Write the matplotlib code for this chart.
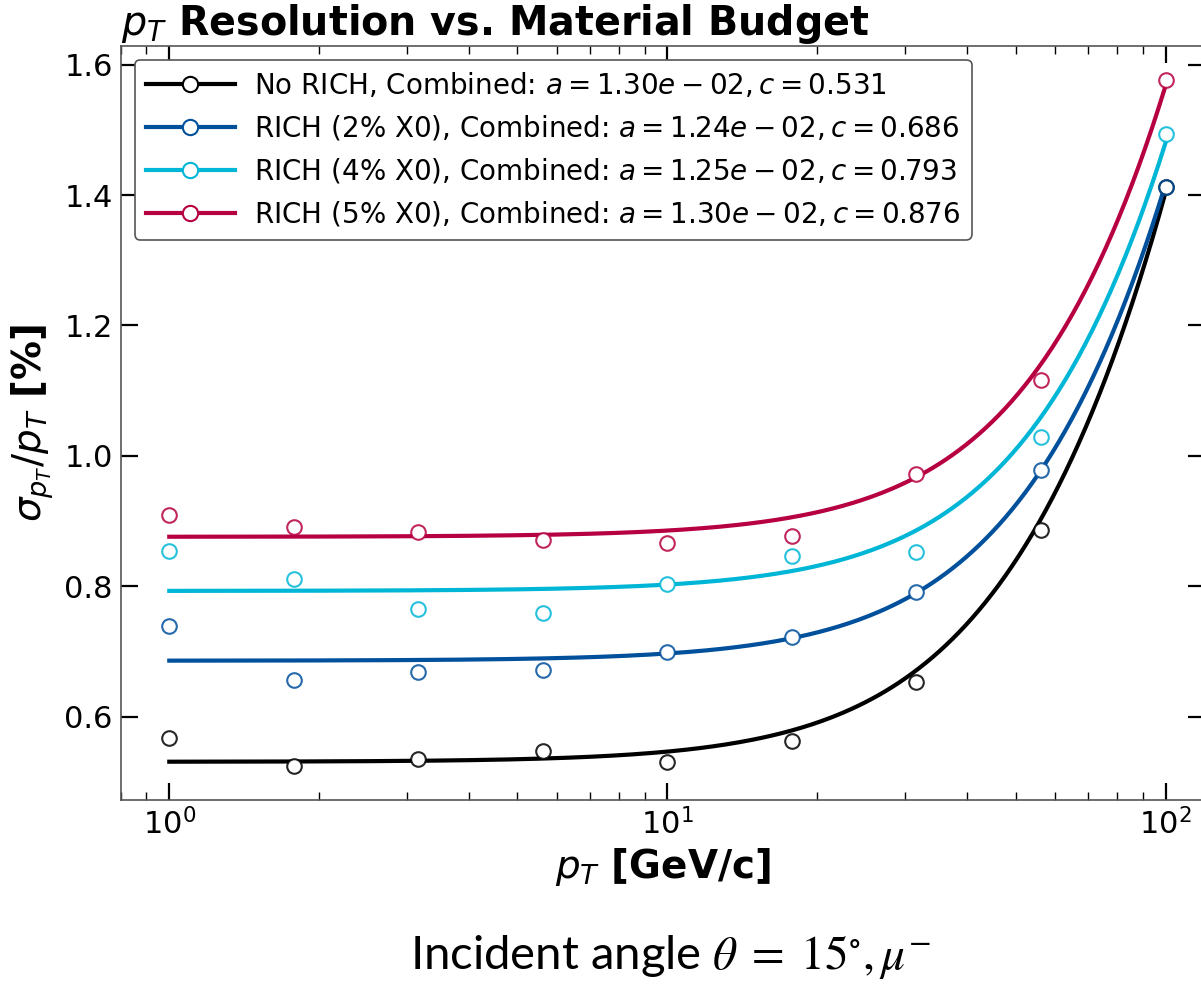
import numpy as np
import matplotlib
matplotlib.use("Agg")
import matplotlib.pyplot as plt
from matplotlib.lines import Line2D
from matplotlib.ticker import LogLocator, NullFormatter

OUTPUT_FILE = "out.png"

# measured points (pT in GeV/c, resolution in %)
PT = [1.0, 1.78, 3.16, 5.62, 10.0, 17.8, 31.6, 56.2, 100.0]

RES_NORICH = [0.568, 0.525, 0.536, 0.548, 0.530, 0.563, 0.653, 0.887, 1.412]
RES_RICH2  = [0.740, 0.657, 0.669, 0.672, 0.700, 0.722, 0.791, 0.978, 1.413]
RES_RICH4  = [0.854, 0.812, 0.765, 0.759, 0.803, 0.847, 0.853, 1.029, 1.493]
RES_RICH5  = [0.909, 0.891, 0.884, 0.871, 0.866, 0.877, 0.973, 1.117, 1.576]

# fit parameters from the legend: sigma/pT = sqrt((a*pT)^2 + c^2)
FIT_A = [1.30e-2, 1.24e-2, 1.25e-2, 1.30e-2]
FIT_C = [0.531, 0.686, 0.793, 0.876]

NAMES  = ["No RICH", "RICH (2% X0)", "RICH (4% X0)", "RICH (5% X0)"]
COLORS = ["#000000", "#00509c", "#00b6d6", "#b70042"]


def fit_curve(pt, a, c):
    return np.sqrt((a * pt) ** 2 + c ** 2)


def main():
    fig = plt.figure(figsize=(12.01, 9.85), dpi=100)
    ax = fig.add_axes([121 / 1201, 185 / 985, 1084 / 1201, 754 / 985])

    series = [RES_NORICH, RES_RICH2, RES_RICH4, RES_RICH5]
    pt_fine = np.logspace(0, 2, 300)
    handles = []
    for res, a, c, name, col in zip(series, FIT_A, FIT_C, NAMES, COLORS):
        ax.plot(pt_fine, fit_curve(pt_fine, a, c), color=col, lw=3.0, zorder=2)
        ax.plot(PT, res, "o", ms=10.5, mfc="white", mec="none", zorder=2.5)
        ax.plot(PT, res, "o", ms=10.5, mfc="none", mec=col, mew=1.5,
                alpha=0.85, zorder=3)
        lab = f"{name}, Combined: $a = {a:.2e}, c = {c:.3f}$"
        handles.append(Line2D([], [], color=col, lw=3.0, marker="o", ms=11,
                              mfc="white", mec=col, mew=1.5, label=lab))

    ax.set_xscale("log")
    ax.set_xlim(0.8, 120)
    ax.margins(y=0.05)

    ax.xaxis.set_minor_locator(LogLocator(base=10, subs=np.arange(2, 10)))
    ax.xaxis.set_minor_formatter(NullFormatter())
    ax.set_yticks([0.6, 0.8, 1.0, 1.2, 1.4, 1.6])

    ax.tick_params(which="both", direction="in", top=True, right=True,
                   labelsize=22)
    ax.tick_params(which="major", length=12, width=1.6)
    ax.tick_params(which="minor", length=6, width=1.0)
    ax.tick_params(axis="x", which="major", pad=6)
    ax.tick_params(axis="y", which="major", pad=6)
    for sp in ax.spines.values():
        sp.set_color("#555555")
        sp.set_linewidth(1.2)

    ax.set_xlabel(r"$p_T$ [GeV/c]", fontsize=28, fontweight="bold", labelpad=4)
    ax.set_ylabel(r"$\sigma_{p_T}/p_T$ [%]", fontsize=28, fontweight="bold",
                  labelpad=6)
    ax.set_title(r"$p_T$ Resolution vs. Material Budget", loc="left",
                 fontsize=28.5, fontweight="bold", pad=4)

    leg = ax.legend(handles=handles, loc="upper left", fontsize=20,
                    handlelength=3.2, handletextpad=0.7, labelspacing=0.5,
                    borderaxespad=0.5, borderpad=0.4, framealpha=1.0,
                    fancybox=True)
    leg.get_frame().set_edgecolor("#555555")
    leg.get_frame().set_linewidth(1.2)

    fig.text(670 / 1201, 1 - 957 / 985,
             r"Incident angle $\theta\;=\;15^{\circ}, \mu^{-}$",
             ha="center", va="center", fontsize=34, family="Lato",
             math_fontfamily="stix")

    fig.savefig(OUTPUT_FILE, dpi=100)
    plt.close(fig)


if __name__ == "__main__":
    main()
